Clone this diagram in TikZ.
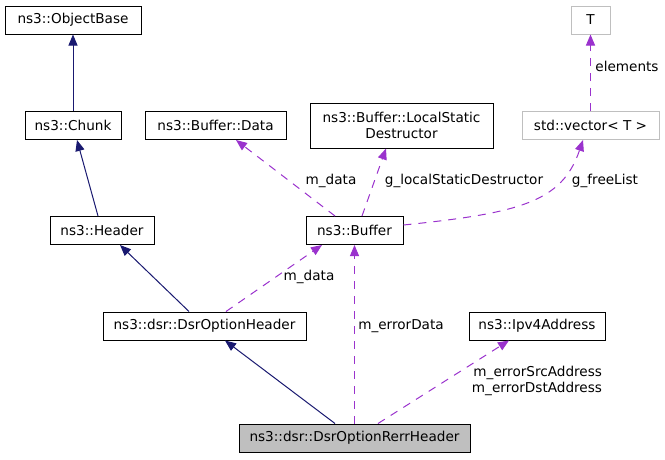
\documentclass[tikz,border=0pt]{standalone}
\usepackage{fontspec}
\setmainfont{DejaVu Sans}
\usetikzlibrary{arrows.meta}
\definecolor{inhc}{HTML}{191970}
\definecolor{usec}{HTML}{9A32CD}
\definecolor{greyb}{HTML}{BFBFBF}
\begin{document}
\begin{tikzpicture}[x=1pt,y=-1pt,
  font=\fontsize{13.6}{15.5}\selectfont,
  box/.style={draw=black,line width=1pt,fill=white,minimum height=28pt,inner sep=0pt,align=center},
  gbox/.style={box,draw=greyb},
  inh/.style={draw=inhc,line width=1pt,-{Triangle[length=11pt,width=9pt]}},
  use/.style={draw=usec,line width=1pt,dash pattern=on 8pt off 7pt,-{Triangle[length=11pt,width=9pt]}},
  lbl/.style={inner sep=0pt,align=center}]
\useasboundingbox (0,0) rectangle (665,459);
% nodes
\node[box,minimum width=136pt] (ob) at (73,20) {ns3::ObjectBase};
\node[box,minimum width=96pt] (chunk) at (73,125.5) {ns3::Chunk};
\node[box,minimum width=104pt] (header) at (102,230.5) {ns3::Header};
\node[box,minimum width=141pt] (data) at (215.5,125.5) {ns3::Buffer::Data};
\node[box,minimum width=183pt,minimum height=45pt] (lsd) at (401.5,125.5) {ns3::Buffer::LocalStatic\\Destructor};
\node[gbox,minimum width=39pt] (T) at (590.5,20) {T};
\node[gbox,minimum width=137pt] (vec) at (590.5,125.5) {std::vector< T >};
\node[box,minimum width=97pt] (buffer) at (354.5,230.5) {ns3::Buffer};
\node[box,minimum width=203pt] (doh) at (204.5,326) {ns3::dsr::DsrOptionHeader};
\node[box,minimum width=136pt] (ipv4) at (537,326) {ns3::Ipv4Address};
\node[box,fill=greyb,minimum width=231pt] (rerr) at (354.5,438) {ns3::dsr::DsrOptionRerrHeader};
% inheritance
\draw[inh] (chunk.north) -- (ob.south);
\draw[inh] ([xshift=-4pt]header.north) -- ([xshift=4pt]chunk.south);
\draw[inh] ([xshift=-15.5pt]doh.north) -- ([xshift=18pt]header.south);
\draw[inh] ([xshift=-19.5pt]rerr.north) -- ([xshift=20.5pt]doh.south);
% usage
\draw[use] (rerr.north) -- (buffer.south);
\draw[use] ([xshift=23.5pt]rerr.north) -- ([xshift=-28pt]ipv4.south);
\draw[use] ([xshift=21.5pt]doh.north) -- ([xshift=-32.5pt]buffer.south);
\draw[use] ([xshift=-19.5pt]buffer.north) -- ([xshift=20.5pt]data.south);
\draw[use] ([xshift=7.5pt]buffer.north) -- ([xshift=-15.5pt]lsd.south);
\draw[use] ([yshift=5.5pt]buffer.east) .. controls (520,213) and (562,202) .. ([xshift=-7.5pt]vec.south);
\draw[use] (vec.north) -- (T.south);
% labels
\node[lbl] (l1) at (331,181) {m\_data};
\node[lbl] (l2) at (464,181) {g\_localStaticDestructor};
\node[lbl] (l3) at (605,181) {g\_freeList};
\node[lbl] (l4) at (627,66) {elements};
\node[lbl] (l5) at (309,277) {m\_data};
\node[lbl] (l6) at (401,326) {m\_errorData};
\node[lbl,align=right] (l7) at (537,381) {m\_errorSrcAddress\\m\_errorDstAddress};
\end{tikzpicture}
\end{document}
